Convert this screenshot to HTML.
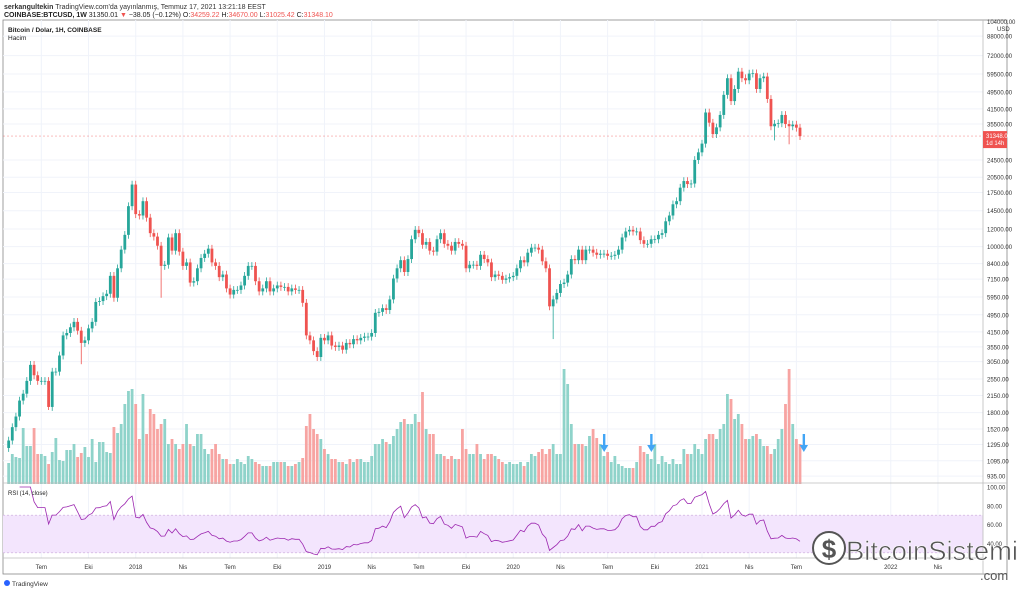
<!DOCTYPE html>
<html><head><meta charset="utf-8"><style>
body{margin:0;background:#fff;width:1024px;height:591px;overflow:hidden;font-family:"Liberation Sans",sans-serif}
svg{display:block}
</style></head><body>
<svg id="c" width="1024" height="591" viewBox="0 0 1024 591">
<text x="4" y="9" font-size="7" fill="#333"><tspan font-weight="bold">serkangultekin</tspan> TradingView.com'da yayınlanmış, Temmuz 17, 2021 13:21:18 EEST</text>
<text x="4" y="17" font-size="7" fill="#222"><tspan font-weight="bold">COINBASE:BTCUSD, 1W</tspan> 31350.01 <tspan fill="#ef5350">▼</tspan> −38.05 (−0.12%) O:<tspan fill="#ef5350">34259.22</tspan> H:<tspan fill="#ef5350">34670.00</tspan> L:<tspan fill="#ef5350">31025.42</tspan> C:<tspan fill="#ef5350">31348.10</tspan></text>
<rect x="3" y="20" width="1004" height="554" fill="none" stroke="#888" stroke-width="0.8"/>
<g id="grid"></g>
<g id="vol"></g>
<g id="candles"></g>
<g id="rsi"></g>
<g id="axes"></g>
<text x="8" y="32" font-size="6.5" font-weight="bold" fill="#222">Bitcoin / Dolar, 1H, COINBASE</text>
<text x="8" y="40" font-size="6.5" fill="#222">Hacim</text>
<text x="8" y="495" font-size="6" fill="#222">RSI (14, close)</text>
<g>
<circle cx="829" cy="548" r="16" fill="#fff" stroke="#555" stroke-width="2"/>
<text x="829" y="558" font-size="26" font-weight="bold" text-anchor="middle" fill="#555">$</text>
<text x="846" y="560" font-size="27" fill="#555" stroke="#fff" stroke-width="0.6" textLength="172" lengthAdjust="spacingAndGlyphs">BitcoinSistemi</text>
<text x="980" y="580" font-size="13" fill="#555">.com</text>
</g>
<g>
<circle cx="7" cy="583" r="3" fill="#2962ff"/>
<text x="12" y="586" font-size="6.5" fill="#333">TradingView</text>
</g>
</svg>
<script>
const closes=[1350,1550,1730,2040,2190,2500,2950,2650,2500,2500,2500,1910,2750,2750,3250,4000,4100,4350,4600,4200,3700,3800,4300,4600,5650,5700,6000,6150,7400,5900,8000,9700,11300,15200,19000,14000,13800,
16000,13500,11500,11100,10100,8200,8300,11000,9600,11500,9500,8200,8500,6900,7000,8000,8900,9300,9800,8500,8200,7300,7500,6500,6100,6400,6400,6700,7400,8200,8200,7000,6300,6500,7000,6300,6500,6700,6600,6600,6300,6500,6400,6400,5600,4000,3800,3400,3200,3900,3800,
4000,3600,3550,3600,3450,3700,3650,3850,3800,3900,3950,3950,4100,5050,5100,5300,5200,5800,7200,8000,8700,7700,8800,10800,11900,11500,10200,10500,9600,9500,10800,11500,10300,10100,9600,10500,10300,10100,8000,8300,8300,8200,9200,8800,8500,7300,7500,7400,7100,7200,7300,7400,
8000,8700,8500,9400,9900,9900,9700,8600,8000,5400,5800,6200,6800,6900,7500,8800,8700,9700,8700,9700,9700,9400,9200,9300,9300,9100,9100,9200,9700,11000,11700,11900,11700,11700,10700,10300,10300,10800,10800,11300,11500,13000,13800,15500,16000,18400,19700,19100,19200,24500,26500,29000,
40000,36000,32000,34300,39000,48000,57000,45000,51000,61000,57000,55800,59800,60000,51000,57000,58000,46000,34700,35600,35800,39000,35500,34700,35300,34200,31348];
const volumes=[21,30,27,26,56,38,38,56,30,30,28,20,32,46,24,23,34,34,40,27,31,37,27,45,22,42,42,32,31,57,51,60,80,93,95,80,45,
90,50,75,70,55,60,65,40,45,40,35,40,60,40,38,50,50,35,30,35,40,30,25,25,20,20,25,22,20,28,25,22,20,18,18,18,22,22,22,22,18,18,20,22,26,58,70,55,50,45,35,30,
25,25,22,22,20,25,22,25,25,22,22,28,40,40,45,42,40,48,55,62,65,60,60,70,62,92,55,50,50,30,30,28,25,28,25,25,55,35,30,30,40,30,25,30,30,28,25,22,20,22,20,20,22,18,22,
30,28,32,35,30,35,40,30,30,115,100,60,40,40,40,38,48,55,46,40,28,32,22,28,20,18,16,16,16,22,38,32,30,25,40,20,28,22,20,25,20,20,35,30,30,40,35,30,45,50,50,45,55,60,
90,85,65,70,60,45,45,48,50,45,38,38,30,35,45,55,80,115,60,45,40,55,45,25,20,18,16];
const wickIdx=[11,20,42,150,211,215];
const wickLow=[1850,2970,5900,3850,30000,28800];
const priceTicks=[88000,72000,59500,49500,41500,35500,24500,20500,17500,14500,12000,10000,8400,7150,5950,4950,4150,3550,3050,2550,2150,1800,1520,1295,1095,935];
const rsiTicks=[100,80,60,40];
const timeLabels=["Tem","Eki","2018","Nis","Tem","Eki","2019","Nis","Tem","Eki","2020","Nis","Tem","Eki","2021","Nis","Tem","2022","Nis"];
const timeWeeks=[9,22,35,48,61,74,87,100,113,126,139,152,165,178,191,204,217,243,256];
const arrowWeeks=[164,177,219];

const NS="http://www.w3.org/2000/svg";
function mk(t,a,p){const e=document.createElementNS(NS,t);for(const k in a)e.setAttribute(k,a[k]);p.appendChild(e);return e;}
const N=closes.length, step=3.63, xLast=800;
const X=i=>xLast-(N-1-i)*step;
const Y=p=>20+96.8*Math.log(104000/p);
const YR=v=>487+(100-v)*0.94;
const YV=v=>484-v;
const G=document.getElementById('grid'),V=document.getElementById('vol'),C=document.getElementById('candles'),R=document.getElementById('rsi'),A=document.getElementById('axes');

priceTicks.forEach(p=>{const l=mk('line',{x1:3,x2:983,y1:Y(p),y2:Y(p),stroke:'#f0f3fa','stroke-width':1},G);

const t=mk('text',{x:987,y:Y(p)+2.5,'font-size':6,fill:'#333'},A);t.textContent=p.toFixed(2);
});
const topLbl=mk('text',{x:987,y:24,'font-size':6,fill:'#333'},A);topLbl.textContent='104000.00';

const usd=mk('text',{x:997,y:31,'font-size':6,fill:'#333'},A);usd.textContent='USD';

const xFirst=X(0);
timeLabels.forEach((s,k)=>{const x=xFirst+timeWeeks[k]*step;
const l=mk('line',{x1:x,x2:x,y1:20,y2:558,stroke:'#f0f3fa','stroke-width':1},G);

const t=mk('text',{x:x,y:569,'font-size':6,fill:'#333','text-anchor':'middle'},A);t.textContent=s;
});

[[983,20,983,574],[3,483,1007,483],[3,558,983,558]].forEach(a=>{const l=mk('line',{x1:a[0],y1:a[1],x2:a[2],y2:a[3],stroke:'#bbb','stroke-width':0.8},A);
});

for(let i=0;i<N;i++){
 const c=closes[i],o=i?closes[i-1]:1250,up=c>=o,x=X(i);
 const v=volumes[i]!==undefined?volumes[i]:25;
 const vb=mk('rect',{x:x-1.4,y:YV(v),width:2.8,height:v,fill:up?'#8fd3ca':'#f7a4a2'},V);
 
 let hi=Math.max(o,c)*1.04,lo=Math.min(o,c)*0.96;
 const w=wickIdx.indexOf(i);if(w>=0)lo=wickLow[w];
 const col=up?'#26a69a':'#ef5350';
 const wk=mk('line',{x1:x,x2:x,y1:Y(hi),y2:Y(lo),stroke:col,'stroke-width':0.8},C);
 
 const yt=Y(Math.max(o,c)),yb=Y(Math.min(o,c));
 const b=mk('rect',{x:x-1.4,y:yt,width:2.8,height:Math.max(0.8,yb-yt),fill:col},C);
 
}
const lp=closes[N-1];
const pl=mk('line',{x1:3,x2:983,y1:Y(lp),y2:Y(lp),stroke:'#ef5350','stroke-width':0.6,'stroke-dasharray':'2,2',opacity:0.6},A);

const lb=mk('rect',{x:983,y:Y(lp)-5,width:24,height:17,fill:'#ef5350'},A);

const lt=mk('text',{x:986,y:Y(lp)+2,'font-size':6,fill:'#fff'},A);lt.textContent=lp.toFixed(2);
const lt2=mk('text',{x:986,y:Y(lp)+9,'font-size':6,fill:'#fff'},A);lt2.textContent='1d 14h';

arrowWeeks.forEach(w=>{const x=xFirst+w*step;const g=mk('g',{},A);

mk('rect',{x:x-1,y:434,width:2.4,height:12,fill:'#42a5f5'},g);
mk('polygon',{points:`${x-4},${445} ${x+4.4},${445} ${x+0.2},${452}`,fill:'#42a5f5'},g);});

const band=mk('rect',{x:3,y:YR(70),width:980,height:YR(30)-YR(70),fill:'#f3e5fd'},R);

[70,30].forEach(v=>{const l=mk('line',{x1:3,x2:983,y1:YR(v),y2:YR(v),stroke:'#c9a9d9','stroke-width':0.6,'stroke-dasharray':'2,2'},R);
});
rsiTicks.forEach(v=>{const t=mk('text',{x:987,y:YR(v)+2.5,'font-size':6,fill:'#333'},A);t.textContent=v.toFixed(2);
});
let ag=0,al=0,pts=[];
for(let i=1;i<N;i++){const d=closes[i]-closes[i-1],g=Math.max(d,0),l=Math.max(-d,0);
 if(i<=14){ag+=g/14;al+=l/14;}else{ag=(ag*13+g)/14;al=(al*13+l)/14;}
 if(i>=3){const r=al===0?100:100-100/(1+ag/al);pts.push(X(i).toFixed(1)+','+YR(r).toFixed(1));}}
const rl=mk('polyline',{points:pts.join(' '),fill:'none',stroke:'#9c27b0','stroke-width':0.8},R);

</script>
</body></html>
